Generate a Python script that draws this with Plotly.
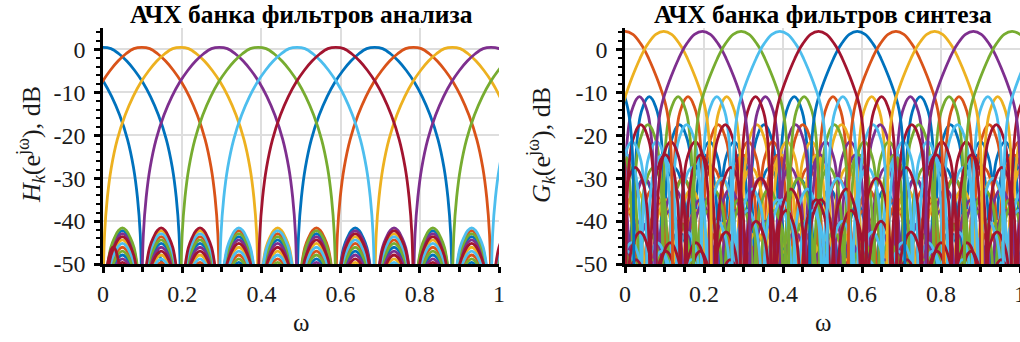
import plotly.graph_objects as go

# ------------------------------------------------------------------ data
PALETTE = {"blue": "#0072BD", "orange": "#D95319", "yellow": "#EDB120",
           "purple": "#7E2F8E", "green": "#77AC30", "cyan": "#4DBEEE",
           "red": "#A2142F"}
CYCLE = ["blue", "orange", "yellow", "purple", "green", "cyan", "red"]

# --- analysis bank H_k : main-lobe centres and colours
H_centers = [-0.098, 0.0, 0.098, 0.196, 0.294, 0.392, 0.49, 0.588, 0.686,
             0.784, 0.882, 0.98, 1.078, 1.176]
H_colors = ["blue", "blue", "orange", "yellow", "purple", "green", "cyan",
            "red", "blue", "orange", "yellow", "purple", "green", "cyan"]
# main-lobe profile: offset from centre -> dB
H_lobe_off = [0.0, 0.02, 0.04, 0.06, 0.08, 0.10, 0.12, 0.14, 0.16, 0.175,
              0.185, 0.192, 0.197]
H_lobe_db = [0.5, 0.2, -1.0, -2.7, -4.9, -7.6, -11.0, -15.3, -21.0, -27.5,
             -34.5, -43.0, -62.0]
# side-lobe gaps (between common nulls) and the stacked side-lobe peak levels
H_nulls = [0.0, 0.098, 0.196, 0.294, 0.392, 0.49, 0.588, 0.686, 0.784,
           0.882, 0.98, 1.078]
H_side_levels = [-41.6, -42.2, -42.9, -43.6, -44.4, -45.2, -46.1, -47.0,
                 -47.9, -48.8, -49.6]
H_side_top = ["green", "red", "red", "cyan", "yellow", "orange", "blue",
              "purple", "green", "cyan", "red"]
H_extra_start = [0.0, 0.098]
H_extra_end = [0.052, 0.165]
H_extra_peak = [-46.0, -46.3]
H_extra_color = ["red", "blue"]

# side-lobe arc profile across one gap (fraction of gap -> dB below peak)
ARC_U = [0.0, 0.03, 0.07, 0.12, 0.2, 0.3, 0.4, 0.5, 0.6, 0.7, 0.8, 0.88,
         0.93, 0.97, 1.0]
ARC_DB = [-40.0, -20.0, -13.0, -8.6, -4.6, -2.2, -0.6, 0.0, -0.6, -2.2,
          -4.6, -8.6, -13.0, -20.0, -40.0]

# --- synthesis bank G_k
G_centers = [-1.176, -1.078, -0.98, -0.882, -0.784, -0.686, -0.588, -0.49,
             -0.392, -0.294, -0.196, -0.098, 0.0, 0.098, 0.196, 0.294, 0.392,
             0.49, 0.588, 0.686, 0.784, 0.882, 0.98, 1.078, 1.176, 1.274,
             1.372, 1.47, 1.568, 1.666, 1.764, 1.862, 1.96, 2.058, 2.156]
G_first_color = 3          # colour-cycle index of the first centre
G_lobe_off = [0.0, 0.02, 0.04, 0.05, 0.06, 0.07, 0.08, 0.09, 0.098, 0.106,
              0.112, 0.117, 0.121]
G_lobe_db = [4.2, 3.5, 1.3, -0.2, -2.1, -4.2, -6.5, -9.0, -11.2, -14.2,
             -18.0, -24.5, -62.0]
G_side_nulls = [0.121, 0.198, 0.274, 0.35, 0.426, 0.502, 0.578, 0.654, 0.73,
                0.806, 0.882, 0.958, 1.034, 1.11, 1.186]
G_side_peaks = [-11.0, -17.5, -21.5, -24.5, -27.5, -30.0, -32.5, -35.0,
                -37.5, -40.0, -42.5, -45.0, -47.0, -49.0]

X_TICKS = [0, 0.2, 0.4, 0.6, 0.8, 1]
X_TICK_TEXT = ["0", "0.2", "0.4", "0.6", "0.8", "1"]
Y_TICKS = [-50, -40, -30, -20, -10, 0]
Y_TICK_TEXT = ["-50", "-40", "-30", "-20", "-10", "0"]

TITLE_H = "<b>АЧХ банка фильтров анализа</b>"
TITLE_G = "<b>АЧХ банка фильтров синтеза</b>"
YLAB_H = "<i>H</i><sub><i>k</i></sub>(e<sup>jω</sup>), dB"
YLAB_G = "<i>G</i><sub><i>k</i></sub>(e<sup>jω</sup>), dB"
XLAB = "ω"

# ------------------------------------------------------------------ build
def new_store():
    return {c: ([], []) for c in CYCLE}


def put(store, color, xs, ys):
    store[color][0].extend(list(xs) + [None])
    store[color][1].extend(list(ys) + [None])


def main_lobe(center, offs, dbs):
    xs = [center - o for o in reversed(offs[1:])] + [center + o for o in offs]
    ys = list(reversed(dbs[1:])) + list(dbs)
    return xs, ys


def arc(a, b, peak):
    xs = [a + u * (b - a) for u in ARC_U]
    ys = [peak + d for d in ARC_DB]
    return xs, ys


# analysis panel
H_side = new_store()
H_main = new_store()
for g in range(len(H_nulls) - 1):
    start = CYCLE.index(H_side_top[g])
    for j, lev in enumerate(H_side_levels):
        col = CYCLE[(start + 3 * j) % 7]
        put(H_side, col, *arc(H_nulls[g], H_nulls[g + 1], lev))
for a, b, p, c in zip(H_extra_start, H_extra_end, H_extra_peak, H_extra_color):
    put(H_side, c, *arc(a, b, p))
for c, col in zip(H_centers, H_colors):
    put(H_main, col, *main_lobe(c, H_lobe_off, H_lobe_db))

# synthesis panel
G_side = new_store()
G_main = new_store()
for i, c in enumerate(G_centers):
    col = CYCLE[(G_first_color + i) % 7]
    for j, p in enumerate(G_side_peaks):
        a, b = G_side_nulls[j], G_side_nulls[j + 1]
        if c + a < 1.02:
            put(G_side, col, *arc(c + a, c + b, p))
        if c - a > -0.02:
            put(G_side, col, *arc(c - b, c - a, p))
    put(G_main, col, *main_lobe(c, G_lobe_off, G_lobe_db))

fig = go.Figure()
LW = 2.8
for store, ax in ((H_side, "1"), (H_main, "1"), (G_side, "2"), (G_main, "2")):
    for col in CYCLE:
        xs, ys = store[col]
        if not xs:
            continue
        fig.add_trace(go.Scatter(
            x=xs, y=ys, mode="lines", connectgaps=False, hoverinfo="skip",
            line=dict(color=PALETTE[col], width=LW, shape="spline",
                      smoothing=1.0),
            xaxis="x" if ax == "1" else "x2",
            yaxis="y" if ax == "1" else "y2", showlegend=False))

W, H = 1020, 342
FONT = "Liberation Serif, Times New Roman, Tinos, DejaVu Serif, serif"
TXT = "#1a1a1a"
TICK_SIZE = 24


def xaxis(dom, anchor):
    return dict(domain=dom, range=[0, 1], tickvals=X_TICKS, anchor=anchor,
                ticktext=X_TICK_TEXT, showline=True, linecolor="black",
                linewidth=2.5, ticks="outside", ticklen=6, tickwidth=2.5,
                tickcolor="black", showgrid=True, gridcolor="#dedede",
                gridwidth=1.6, zeroline=False, automargin=False,
                ticklabeloverflow="allow",
                tickfont=dict(family=FONT, size=TICK_SIZE, color=TXT),
                minor=dict(dtick=0.05, ticks="outside", ticklen=5,
                           tickwidth=2.5, tickcolor="black", showgrid=False),
                fixedrange=True)


def yaxis(dom, anchor):
    return dict(domain=dom, range=[-50, 5], tickvals=Y_TICKS,
                ticktext=Y_TICK_TEXT, showline=True, linecolor="black",
                linewidth=2.5, ticks="outside", ticklen=6, tickwidth=2.5,
                tickcolor="black", showgrid=True, gridcolor="#dedede",
                gridwidth=1.6, zeroline=False, anchor=anchor, automargin=False,
                ticklabelstandoff=4,
                tickfont=dict(family=FONT, size=TICK_SIZE, color=TXT),
                minor=dict(dtick=2, tick0=0, ticks="outside", ticklen=4,
                           tickwidth=2, tickcolor="black", showgrid=False),
                fixedrange=True)


ydom = [(H - 264) / H, (H - 28) / H]
fig.update_layout(
    width=W, height=H, margin=dict(l=0, r=0, t=0, b=0, autoexpand=False),
    paper_bgcolor="white", plot_bgcolor="white",
    font=dict(family=FONT, size=TICK_SIZE, color=TXT),
    xaxis=xaxis([103 / W, 499 / W], "y"),
    yaxis=yaxis(ydom, "x"),
    xaxis2=xaxis([625 / W, 1.0], "y2"),
    yaxis2=yaxis(ydom, "x2"),
)

ann = []
for cx, title in ((301, TITLE_H), (823, TITLE_G)):
    ann.append(dict(x=cx / W, y=(H - 14) / H, xref="paper", yref="paper",
                    text=title, showarrow=False, xanchor="center",
                    yanchor="middle",
                    font=dict(family=FONT, size=25.5, color="black")))
    ann.append(dict(x=cx / W, y=(H - 322) / H, xref="paper", yref="paper",
                    text=XLAB, showarrow=False, xanchor="center",
                    yanchor="middle",
                    font=dict(family=FONT, size=25, color=TXT)))
for cx, lab in ((31, YLAB_H), (541, YLAB_G)):
    ann.append(dict(x=cx / W, y=(H - 145) / H, xref="paper", yref="paper",
                    text=lab, showarrow=False, textangle=-90,
                    xanchor="center", yanchor="middle",
                    font=dict(family=FONT, size=26, color=TXT)))
fig.update_layout(annotations=ann)

fig.write_html("out.html", config={"displayModeBar": False},
               post_script="document.body.style.margin='0';"
                           "document.body.style.padding='0';")
